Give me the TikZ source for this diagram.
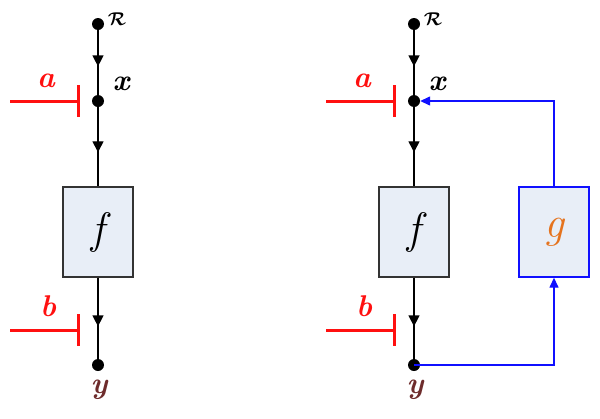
\documentclass[tikz,border=0pt]{standalone}
\usetikzlibrary{arrows.meta,decorations.markings}
\definecolor{boxfill}{HTML}{E8EEF7}
\definecolor{boxdraw}{HTML}{333333}
\definecolor{inhred}{HTML}{FF1010}
\definecolor{fbblue}{HTML}{1010FF}
\definecolor{ybrown}{HTML}{6E2C2C}
\definecolor{gorange}{HTML}{E5731E}
\tikzset{
  dot/.style={circle,fill=black,inner sep=0pt,minimum size=12pt},
  box/.style={draw=boxdraw,fill=boxfill,line width=1.4pt,minimum width=70pt,minimum height=90pt,inner sep=0pt,font=\fontsize{44}{46}\selectfont\itshape},
  flow/.style={draw=black,line width=1.4pt},
  midarrow/.style={postaction={decorate},decoration={markings,mark=at position #1 with {\arrow{Triangle[width=11pt,length=11pt]}}}},
  inhib/.style={draw=inhred,line width=3pt,-{Bar[width=32pt,line width=3pt]}},
  fb/.style={draw=fbblue,line width=1.4pt,-{Triangle[width=9pt,length=10pt]}},
  lbl/.style={inner sep=0pt,font=\fontsize{30}{32}\selectfont\bfseries\itshape},
  smalllbl/.style={inner sep=0pt,font=\normalsize},
}
\newcommand{\calR}{\scalebox{1.85}{\mathversion{bold}$\mathcal{R}$}}
\begin{document}
\begin{tikzpicture}[x=1pt,y=-1pt]
\useasboundingbox (0,0) rectangle (600,418);
% ---------- left diagram ----------
\node[dot] (R1) at (98,24) {};
\node[smalllbl] (R1l) at (117,19) {\calR};
\node[dot] (X1) at (98,101) {};
\node[lbl] (X1l) at (121,84) {x};
\node[box] (F1) at (98,232) {f};
\node[dot] (Y1) at (98,365) {};
\node[lbl,text=ybrown] (Y1l) at (99,390) {y};
\draw[flow,midarrow=0.56] (R1) -- (X1);
\draw[flow,midarrow=0.57] (X1) -- (F1.north);
\draw[flow,midarrow=0.6] (F1.south) -- (Y1);
\coordinate (a1s) at (10,101);
\coordinate (a1e) at (80,101);
\draw[inhib] (a1s) -- (a1e);
\node[lbl,text=inhred] (a1l) at (46,81) {a};
\coordinate (b1s) at (10,330);
\coordinate (b1e) at (80,330);
\draw[inhib] (b1s) -- (b1e);
\node[lbl,text=inhred] (b1l) at (48,306) {b};
% ---------- right diagram ----------
\node[dot] (R2) at (414,24) {};
\node[smalllbl] (R2l) at (433,19) {\calR};
\node[dot] (X2) at (414,101) {};
\node[lbl] (X2l) at (437,84) {x};
\node[box] (F2) at (414,232) {f};
\node[dot] (Y2) at (414,365) {};
\node[lbl,text=ybrown] (Y2l) at (415,390) {y};
\node[box,draw=fbblue,text=gorange] (G2) at (554,232) {g};
\draw[flow,midarrow=0.56] (R2) -- (X2);
\draw[flow,midarrow=0.57] (X2) -- (F2.north);
\draw[flow,midarrow=0.6] (F2.south) -- (Y2);
\coordinate (a2s) at (326,101);
\coordinate (a2e) at (396,101);
\draw[inhib] (a2s) -- (a2e);
\node[lbl,text=inhred] (a2l) at (362,81) {a};
\coordinate (b2s) at (326,330);
\coordinate (b2e) at (396,330);
\draw[inhib] (b2s) -- (b2e);
\node[lbl,text=inhred] (b2l) at (364,306) {b};
\draw[fb] (G2.north) |- (X2);
\draw[fb] (Y2.center) -| (G2.south);
\end{tikzpicture}
\end{document}
